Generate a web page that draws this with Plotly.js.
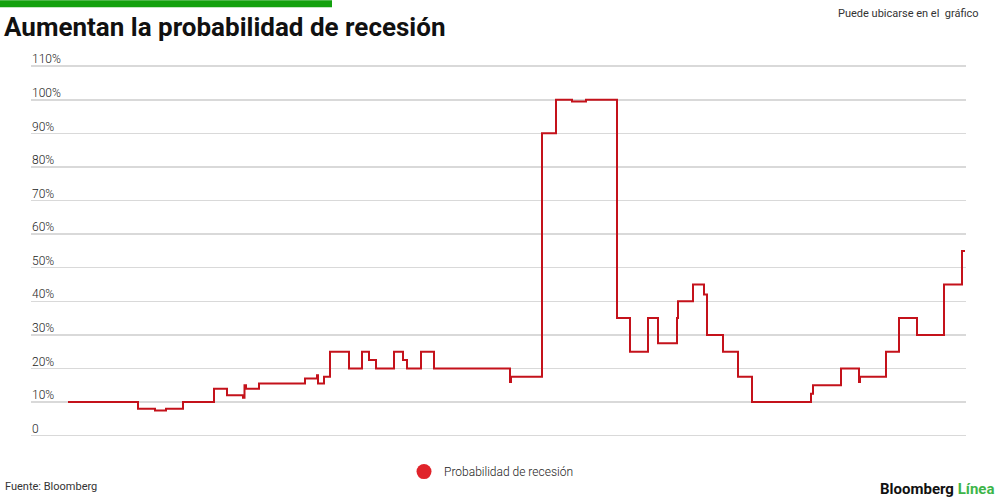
<!DOCTYPE html>
<html>
<head>
<meta charset="utf-8">
<script src="https://cdn.plot.ly/plotly-3.0.1.min.js"></script>
<style>html,body{margin:0;padding:0;background:#fff}#chart{width:1000px;height:500px}</style>
</head>
<body>
<div id="chart"></div>
<script>
// Step series: observation index (unlabelled time axis) and probability (%)
const periods = [0, 70, 87, 98, 115, 146, 159, 175, 176.5, 178, 191, 237, 249, 250, 256, 262, 281, 294, 301, 308, 326, 335, 339, 353, 366, 442, 443, 474, 488, 504, 518, 549, 562, 580, 590, 609, 610, 625, 636, 639, 655, 670, 684, 743, 745, 773, 791, 792, 818, 831, 849, 876, 894, 897];
const probability = [10, 8, 7.5, 8, 10, 14, 12, 11.3, 15, 14, 15.5, 17, 18, 15.5, 17.5, 25, 20, 25, 22.5, 20, 25, 22.5, 20, 25, 20, 16, 17.5, 90, 100, 99.5, 100, 35, 25, 35, 27.5, 35, 40, 45, 42, 30, 25, 17.5, 10, 12.5, 15, 20, 16, 17.5, 25, 35, 30, 45, 55, 55];
const tickValues = [0, 10, 20, 30, 40, 50, 60, 70, 80, 90, 100, 110];
const tickLabels = ["0", "10%", "20%", "30%", "40%", "50%", "60%", "70%", "80%", "90%", "100%", "110%"];
const seriesName = "Probabilidad de recesión";

const W = 1000, H = 500;
const unit = 370 / 110;              // pixels per percentage point
const yMin = -0.4, yMax = 116;
const L = 31, R = 34;
const B = H - (436 - yMin * unit);
const T = 436 - yMax * unit;
const pw = W - L - R, ph = H - T - B;
const px = x => (x - L) / pw;
const py = y => (H - B - y) / ph;

const traces = [
  {
    x: periods, y: probability, type: 'scatter', mode: 'lines',
    line: {shape: 'hv', color: '#c4121b', width: 2},
    showlegend: false, hoverinfo: 'skip'
  },
  {
    x: [null], y: [null], type: 'scatter', mode: 'markers', name: seriesName,
    marker: {color: '#e0232a', size: 15}
  }
];

const layout = {
  width: W, height: H,
  margin: {l: L, r: R, t: T, b: B, pad: 0},
  paper_bgcolor: '#fff', plot_bgcolor: '#fff',
  font: {family: 'Roboto, sans-serif', color: '#333'},
  title: {
    text: '<b>Aumentan la probabilidad de recesión</b>',
    font: {family: 'Roboto, sans-serif', size: 26, color: '#111'},
    x: 0.004, xanchor: 'left', xref: 'container',
    y: 1 - 27 / H, yanchor: 'middle', yref: 'container'
  },
  xaxis: {
    range: [-37, 898], showgrid: false, zeroline: false, showticklabels: false,
    showline: false, ticks: '', fixedrange: true
  },
  yaxis: {
    range: [yMin, yMax], tickvals: tickValues, ticktext: tickLabels,
    showgrid: true, gridcolor: '#d9d9d9', gridwidth: 1.5,
    zeroline: false, showline: false, ticks: '',
    ticklabelposition: 'inside', ticklabelshift: -7, ticklabelstandoff: -2,
    tickfont: {family: 'Roboto, sans-serif', size: 12, weight: 300, color: '#222'},
    fixedrange: true
  },
  showlegend: true,
  legend: {
    orientation: 'h', x: px(491), xanchor: 'center', y: py(472), yanchor: 'middle',
    font: {family: 'Roboto, sans-serif', size: 12, weight: 300, color: '#222'},
    bgcolor: 'rgba(0,0,0,0)'
  },
  shapes: [
    {type: 'rect', xref: 'paper', yref: 'paper', x0: px(0), x1: px(332), y0: py(7), y1: py(0),
     fillcolor: '#13a10e', line: {width: 0}}
  ],
  annotations: [
    {text: 'Puede ubicarse en el  gráfico', xref: 'paper', yref: 'paper', x: px(981), y: py(13),
     xanchor: 'right', yanchor: 'middle', showarrow: false,
     font: {family: 'Roboto, sans-serif', size: 11, color: '#333'}},
    {text: 'Fuente: Bloomberg', xref: 'paper', yref: 'paper', x: px(3), y: py(487),
     xanchor: 'left', yanchor: 'middle', showarrow: false,
     font: {family: 'Roboto, sans-serif', size: 11, color: '#333'}},
    {text: '<b>Bloomberg <span style="color:#3db549">Línea</span></b>', xref: 'paper', yref: 'paper',
     x: px(996), y: py(489), xanchor: 'right', yanchor: 'middle', showarrow: false,
     font: {family: 'Roboto, sans-serif', size: 15, color: '#111'}}
  ]
};

Plotly.newPlot('chart', traces, layout, {displayModeBar: false, staticPlot: true});
</script>
</body>
</html>
